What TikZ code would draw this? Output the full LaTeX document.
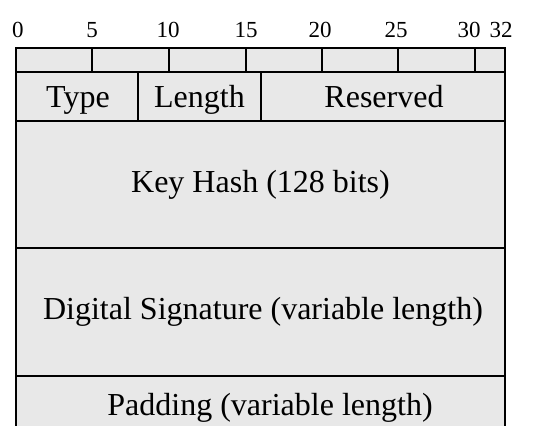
\documentclass[tikz,border=0pt]{standalone}
\usepackage{fontspec}
\setmainfont{Liberation Serif}
\definecolor{cellgray}{HTML}{E8E8E8}
\begin{document}
\begin{tikzpicture}[x=1pt,y=-1pt,
  rule/.style={line width=1.7pt,draw=black},
  cell/.style={fill=cellgray},
  bitnum/.style={font=\fontsize{23}{23}\selectfont,anchor=base,inner sep=0pt},
  fieldtext/.style={font=\fontsize{32}{32}\selectfont,inner sep=0pt}]
\useasboundingbox (0,0) rectangle (550,426);
% backgrounds of the rows
\fill[cell] (16,48) rectangle (505,426);
% bit ruler
\foreach \x/\lab in {18/0,92/5,168/10,246/15,320/20,396/25}
  \node[bitnum] (n\lab) at (\x,37) {\lab};
\node[bitnum] (n30) at (469,37) {30};
\node[bitnum] (n32) at (501,37) {32};
\draw[rule] (16,48) rectangle (505,72);
\foreach \x in {92,169,246,322,398,475}
  \draw[rule] (\x,48) -- (\x,72);
% header row
\draw[rule] (16,72) rectangle (505,121);
\draw[rule] (138,72) -- (138,121);
\draw[rule] (261,72) -- (261,121);
\node[fieldtext,anchor=base] (type) at (78,107.5) {Type};
\node[fieldtext,anchor=base] (len) at (199.5,107.5) {Length};
\node[fieldtext,anchor=base] (res) at (384,107.5) {Reserved};
% key hash
\draw[rule] (16,121) rectangle (505,248);
\node[fieldtext] (hash) at (260.5,185) {Key Hash (128 bits)};
% signature
\draw[rule] (16,248) rectangle (505,376);
\node[fieldtext] (sig) at (263,312) {Digital Signature (variable length)};
% padding, open at the bottom
\draw[rule] (16,430) -- (16,376) -- (505,376) -- (505,430);
\node[fieldtext] (pad) at (270,408) {Padding (variable length)};
\end{tikzpicture}
\end{document}
